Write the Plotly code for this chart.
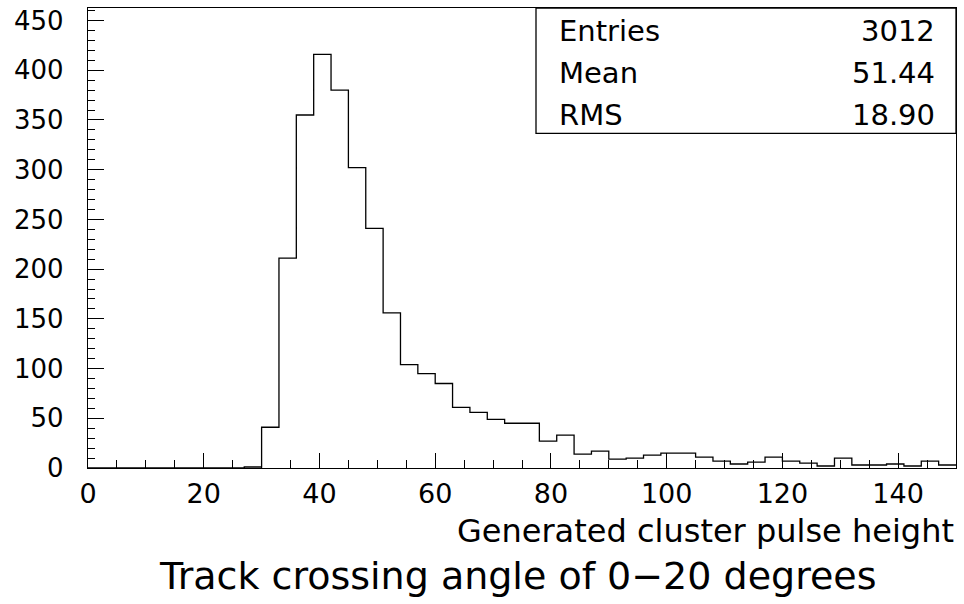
import numpy as np
import plotly.graph_objects as go

# Histogram: bin width 3, range 0-150 (50 bins)
bin_width = 3
x_min, x_max = 0, 150
counts = [0, 0, 0, 0, 0, 0, 0, 0, 0, 1,
          41, 211, 355, 416, 380, 302, 241, 156, 104, 95,
          85, 61, 56, 49, 45, 45, 27, 33, 14, 17,
          9, 10, 13, 15, 15, 11, 7, 4, 6, 11,
          7, 5, 2, 10, 3, 3, 4, 2, 7, 3]

stat_labels = ["Entries", "Mean", "RMS"]
stat_values = ["3012", "51.44", "18.90"]

x_title = "Generated cluster pulse height"
main_title = "Track crossing angle of 0\u221220 degrees"

edges = np.arange(x_min, x_max + bin_width, bin_width)
xs = list(edges[:-1]) + [edges[-1]]
ys = list(counts) + [counts[-1]]

FONT = "DejaVu Sans"

fig = go.Figure()
fig.add_trace(go.Scatter(x=xs, y=ys, mode="lines", line=dict(color="black", width=1.3, shape="hv"),
                         showlegend=False, hoverinfo="skip"))

W, H = 964, 604
L, R, T, B = 88, 8, 6, 136
ph = H - T - B

def py(px):
    return (H - B - px) / ph

pw = W - L - R
def px_(x):
    return (x - L) / pw

fig.update_layout(
    width=W, height=H,
    margin=dict(l=L, r=R, t=T, b=B),
    paper_bgcolor="white", plot_bgcolor="white",
    font=dict(family=FONT, color="black"),
    xaxis=dict(range=[x_min, x_max], showgrid=False, zeroline=False,
               showline=True, linecolor="black", linewidth=1.3, mirror=True,
               ticks="inside", tickcolor="black", ticklen=15, tickwidth=1.2,
               tickmode="linear", tick0=0, dtick=20,
               tickfont=dict(size=27, family=FONT, color="black"),
               minor=dict(ticks="inside", dtick=5, ticklen=8, tickcolor="black", tickwidth=1.2),
               ticklabelstandoff=1),
    yaxis=dict(range=[0, 462.6], showgrid=False, zeroline=False,
               showline=True, linecolor="black", linewidth=1.3, mirror=True,
               ticks="inside", tickcolor="black", ticklen=16, tickwidth=1.2,
               tickmode="linear", tick0=0, dtick=50,
               tickfont=dict(size=26, family=FONT, color="black"),
               minor=dict(ticks="inside", dtick=10, ticklen=7, tickcolor="black", tickwidth=1.2),
               ticklabelstandoff=18),
)

# Stats box
fig.add_shape(type="rect", xref="paper", yref="paper",
              x0=px_(536), x1=1.0, y0=py(132), y1=1.0,
              line=dict(color="black", width=1.3), fillcolor="white", layer="above")
row_centers = [29, 71, 113]
for lab, val, yc in zip(stat_labels, stat_values, row_centers):
    fig.add_annotation(text=lab, xref="paper", yref="paper", x=px_(557), y=py(yc),
                       xanchor="left", yanchor="middle", showarrow=False,
                       font=dict(size=29, family=FONT, color="black"))
    fig.add_annotation(text=val, xref="paper", yref="paper", x=px_(937), y=py(yc),
                       xanchor="right", yanchor="middle", showarrow=False,
                       font=dict(size=29, family=FONT, color="black"))

fig.add_annotation(text=x_title, xref="paper", yref="paper", x=px_(956), y=py(531),
                   xanchor="right", yanchor="middle", showarrow=False,
                   font=dict(size=32, family=FONT, color="black"))
fig.add_annotation(text=main_title, xref="paper", yref="paper", x=px_(518), y=py(576),
                   xanchor="center", yanchor="middle", showarrow=False,
                   font=dict(size=38, family=FONT, color="black"))

fig.write_html("out.html")
